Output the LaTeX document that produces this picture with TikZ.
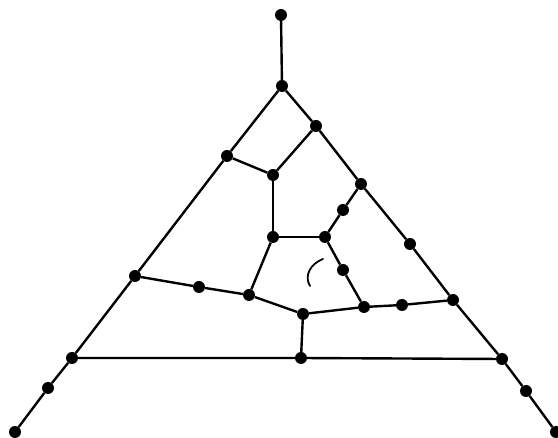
\documentclass[tikz,border=0pt]{standalone}
\begin{document}
\begin{tikzpicture}[x=1pt,y=-1pt,
  dot/.style={circle,fill=black,inner sep=0pt,minimum size=12pt},
  edge/.style={line width=2.4pt,line join=round}]
\useasboundingbox (0,0) rectangle (558,438);
% nodes
\node[dot] (top) at (281,15) {};
\node[dot] (apex) at (282,86) {};
\node[dot] (r1) at (316,126) {};
\node[dot] (l1) at (227,156) {};
\node[dot] (i1) at (273,175) {};
\node[dot] (r2) at (361,184) {};
\node[dot] (m1) at (343,210) {};
\node[dot] (q1) at (273,237) {};
\node[dot] (q2) at (325,237) {};
\node[dot] (r3) at (410,244) {};
\node[dot] (m2) at (343,270) {};
\node[dot] (l2) at (135,276) {};
\node[dot] (h1) at (199,287) {};
\node[dot] (h2) at (249,295) {};
\node[dot] (r4) at (453,300) {};
\node[dot] (h5) at (402,305) {};
\node[dot] (h4) at (364,307) {};
\node[dot] (h3) at (303,314) {};
\node[dot] (l3) at (72,358) {};
\node[dot] (b1) at (301,358) {};
\node[dot] (r5) at (502,359) {};
\node[dot] (l4) at (48,388) {};
\node[dot] (r6) at (526,391) {};
\node[dot] (l5) at (15,432) {};
\node[dot] (r7) at (556,432) {};
% edges
\draw[edge] (top) -- (apex);
\draw[edge] (apex) -- (l1) -- (l2) -- (l3) -- (l4) -- (l5);
\draw[edge] (apex) -- (r1) -- (r2) -- (r3) -- (r4) -- (r5) -- (r6) -- (r7);
\draw[edge] (l1) -- (i1) -- (r1);
\draw[edge] (i1) -- (q1) -- (q2);
\draw[edge] (q2) -- (m1) -- (r2);
\draw[edge] (q2) -- (m2) -- (h4);
\draw[edge] (q1) -- (h2);
\draw[edge] (l2) -- (h1) -- (h2) -- (h3);
\draw[edge] (h3) -- (h4) -- (h5) -- (r4);
\draw[edge] (h3) -- (b1);
\draw[edge] (l3) -- (b1) -- (r5);
% small mark
\draw[line width=1.8pt,line cap=round] (323,259) .. controls (310,264) and (304,276) .. (310,286);
\end{tikzpicture}
\end{document}
